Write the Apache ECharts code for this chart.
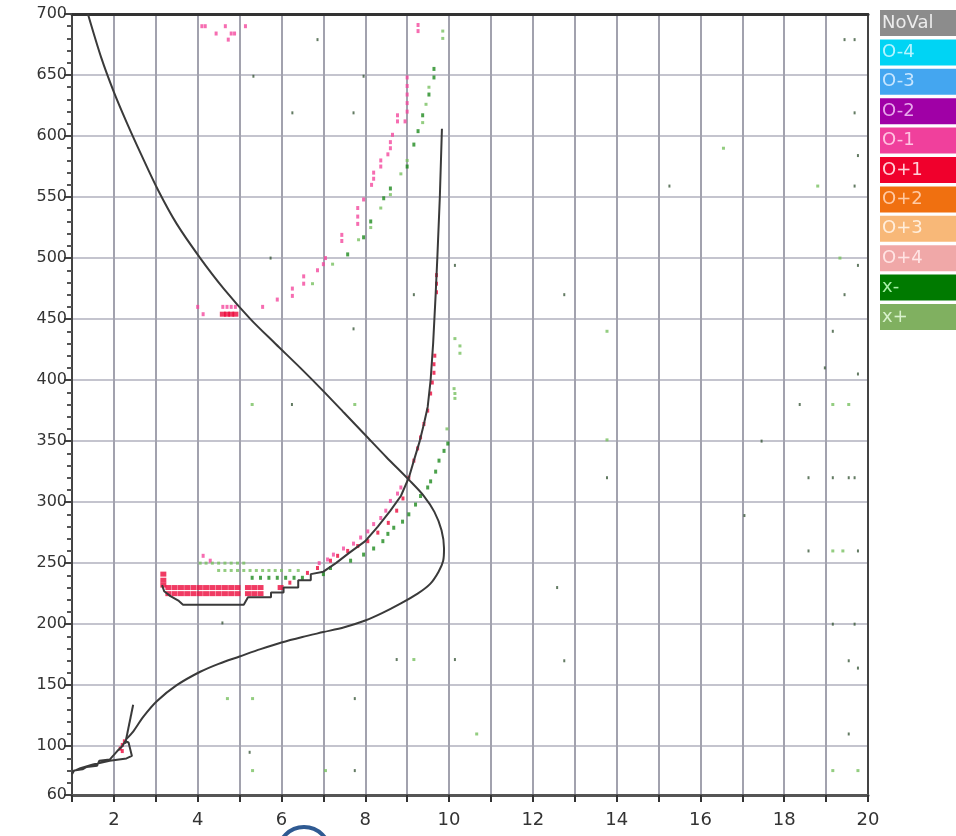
<!DOCTYPE html>
<html>
<head>
<meta charset="utf-8">
<script src="https://cdn.jsdelivr.net/npm/echarts@6/dist/echarts.min.js"></script>
<style>
  html, body { margin: 0; padding: 0; background: #fff; }
  #chart { width: 956px; height: 836px; }
</style>
</head>
<body>
<div id="chart"></div>
<script>
// legend classes (box colour, text colour)
var classNames = ['NoVal', 'O-4', 'O-3', 'O-2', 'O-1', 'O+1', 'O+2', 'O+3', 'O+4', 'x-', 'x+'];
var classColors = ['#8c8c8c', '#00d4f4', '#44a6f0', '#a000a6', '#f0409c', '#f0002c', '#f07010', '#f8b878', '#f0a8a8', '#007a00', '#80b060'];
var classTextColors = ['#ececec', '#b4f4ff', '#c8e6ff', '#e8a8ec', '#ffc4e2', '#ffd0d8', '#ffcaa4', '#ffeedc', '#ffe4e4', '#a8f0a8', '#d8f2cc'];

var yTickValues = [60, 100, 150, 200, 250, 300, 350, 400, 450, 500, 550, 600, 650, 700];

// black curves
var curveA = [[1.38,700],[1.7,664],[2.0,636],[2.32,610],[2.65,585],[3.05,556],[3.5,528],[4.06,500],[4.62,475],[5.26,450],[5.85,430],[6.45,410],[7.0,391],[7.5,373],
  [8.0,355],[8.5,337],[9.05,318],[9.4,305],[9.65,292],[9.82,277],[9.88,262],[9.86,252],[9.75,243],[9.55,233],[9.25,225],[8.85,217],[8.4,209],[8.0,203],
  [7.5,197.5],[7.0,193.5],[6.5,189.5],[6.0,185],[5.5,179.5],[5.0,173.5],[4.5,167.5],[4.06,161],[3.5,150],[3.03,137],[2.7,124],[2.46,112],[2.3,106]];
var curveB = [[9.83,606],[9.78,550],[9.72,500],[9.68,470],[9.62,430],[9.56,400],[9.49,378],[9.4,364],[9.3,350],[9.16,334],[9.04,320],[8.85,305],[8.6,293],[8.3,280],[8.0,268],[7.6,258],[7.3,250],[7.0,243],[6.7,241],[6.7,236],[6.4,236],[6.4,230],[6.05,230],[6.05,226],[5.75,226],[5.75,222],[5.2,222],[5.1,216],[3.65,216],[3.55,219],[3.35,223],[3.2,227],[3.15,232]];
var lowLoop = [[1.0,77],[1.05,80],[1.25,81],[1.35,83],[1.6,84],[1.65,88],[1.9,89],[2.08,96],[2.2,100],[2.27,104],[2.35,103],[2.43,92],[2.3,90],[1.9,88],[1.5,85],[1.2,82],[1.0,79]];
var shortStroke = [[2.46,134],[2.27,102]];

// O-1 points
var pinkPts = [[4.1,690],[4.18,690],[4.44,684],[4.66,690],[4.73,679],[4.8,684],[4.88,684],[5.14,690],
  [4.0,460],[4.13,454],[4.6,460],[4.7,460],[4.8,460],[4.9,460],[5.55,460],[5.9,466],[6.26,475],[6.26,469],[6.53,479],[6.53,485],[6.86,490],[7.0,495],[7.05,500],
  [7.44,514],[7.44,519],[7.82,528],[7.82,534],[7.82,541],[7.96,548],[8.15,560],[8.2,565],[8.2,570],[8.37,575],[8.37,580],[8.54,585],[8.6,590],[8.6,595],[8.65,601],
  [8.77,612],[8.77,617],[8.95,612],[9.0,620],[9.0,627],[9.0,634],[9.0,641],[9.0,648],[9.26,686],[9.26,691],
  [4.13,256],[4.3,252],[6.9,250],[7.1,253],[7.24,257],[7.48,262],[7.72,266],[7.89,271],[8.06,276],[8.2,282],[8.37,287],[8.49,293],[8.6,301],[8.77,307],[8.85,312]];

// O+1 points
var redPts = [[6.2,234],[6.62,242],[6.86,246],[7.17,252],[7.34,256],[7.58,260],[7.82,264],[8.06,268],[8.3,275],[8.55,283],[8.75,293],[8.9,303],[9.04,320],
  [9.16,334],[9.25,344],[9.32,353],[9.4,364],[9.49,375],[9.56,389],[9.6,398],[9.64,406],[9.64,413],[9.66,420],[9.7,472],[9.7,479],[9.7,486],
  [2.15,98],[2.2,101],[2.25,104],[2.2,96]];
var redBand = [[3.18,241],[3.18,236],[3.18,232],
  [3.3,230],[3.45,230],[3.6,230],[3.75,230],[3.9,230],[4.05,230],[4.2,230],[4.35,230],[4.5,230],[4.65,230],[4.8,230],[4.95,230],[5.2,230],[5.35,230],[5.5,230],[5.98,230],
  [3.3,225],[3.45,225],[3.6,225],[3.75,225],[3.9,225],[4.05,225],[4.2,225],[4.35,225],[4.5,225],[4.65,225],[4.8,225],[4.95,225],[5.2,225],[5.35,225],[5.5,225],
  [4.6,454],[4.7,454],[4.8,454],[4.9,454]];

// x- points
var darkGreenPts = [[8.2,262],[8.42,268],[8.54,274],[8.68,279],[8.89,284],[9.04,290],[9.2,298],[9.32,305],[9.49,312],[9.56,317],[9.68,325],[9.76,334],[9.88,342],[9.97,348],
  [5.3,238],[5.5,238],[5.7,238],[5.9,238],[6.1,238],[6.3,238],[6.5,238],[7.0,241],[7.17,246],[7.65,252],[7.96,257],
  [7.58,503],[7.96,517],[8.13,530],[8.44,549],[8.6,557],[9.0,575],[9.16,593],[9.26,604],[9.37,617],[9.52,634],[9.64,648],[9.64,655]];
var specks = [[5.33,649],[6.26,619],[5.74,500],[6.86,679],[7.72,619],[7.96,649],[9.16,470],[10.14,494],[7.72,442],[19.44,679],[19.68,679],[19.68,619],[19.76,584],
  [15.26,559],[19.68,559],[19.76,494],[12.75,470],[19.44,470],[19.16,440],[18.97,410],[19.76,405],[18.37,380],[6.25,380],[17.46,350],[13.77,320],[18.58,320],
  [19.16,320],[19.54,320],[19.68,320],[17.05,289],[18.58,260],[19.76,260],[12.58,230],[19.16,200],[19.68,200],[12.75,170],[19.54,170],[19.76,164],[19.54,110],
  [4.59,201],[7.75,139],[5.24,95],[7.75,80],[8.75,171],[10.14,171]];

// x+ points
var lightGreenPts = [[10.12,393],[10.14,389],[10.14,385],[9.95,360],[10.14,434],[10.26,428],[10.26,422],[9.85,686],[9.85,680],
  [4.06,250],[4.2,250],[4.35,250],[4.5,250],[4.65,250],[4.8,250],[4.95,250],[5.1,250],
  [4.5,244],[4.65,244],[4.8,244],[4.95,244],[5.1,244],[5.25,244],[5.4,244],[5.55,244],[5.7,244],[5.85,244],[6.0,244],[6.2,244],[6.4,244],
  [6.74,479],[7.22,495],[7.84,515],[8.13,525],[8.37,541],[8.6,552],[8.85,569],[9.0,580],[9.37,611],[9.45,626],[9.52,640],
  [16.55,590],[18.8,559],[19.33,500],[13.77,440],[19.16,380],[19.54,380],[13.77,351],[19.16,260],[19.4,260],[10.66,110],[19.16,80],[19.76,80],
  [4.71,139],[5.31,139],[5.31,80],[7.05,80],[9.16,171],[7.75,380],[5.3,380]];

var chart = echarts.init(document.getElementById('chart'));

var legendData = [];
var emptySeries = [];
for (var i = 0; i < classNames.length; i++) {
  legendData.push({
    name: classNames[i],
    textStyle: { backgroundColor: classColors[i], color: classTextColors[i] }
  });
  emptySeries.push({ name: classNames[i], type: 'scatter', data: [], itemStyle: { color: classColors[i] } });
}

function pts(name, data, color, size) {
  return {
    name: name, type: 'scatter', data: data, symbol: 'rect', symbolSize: size,
    itemStyle: { color: color }, silent: true, z: 3
  };
}
function curve(data, smooth) {
  return {
    type: 'line', data: data, showSymbol: false, smooth: smooth, silent: true, z: 5,
    lineStyle: { color: '#3a3a3a', width: 2 }
  };
}

var option = {
  animation: false,
  grid: { left: 72, right: 88, top: 14, bottom: 41 },
  legend: {
    orient: 'vertical', left: 870, top: 5, itemGap: 3.4,
    icon: 'rect', itemWidth: 0, itemHeight: 26, selectedMode: false,
    textStyle: { fontFamily: 'DejaVu Sans', fontSize: 18, width: 72, height: 26, lineHeight: 26, padding: [0, 2] },
    data: legendData
  },
  xAxis: [{
    type: 'value', min: 1, max: 20, interval: 1,
    axisLine: { lineStyle: { color: '#555', width: 3 } },
    axisTick: { length: 7, lineStyle: { color: '#333', width: 2 } },
    axisLabel: {
      fontFamily: 'DejaVu Sans', fontSize: 18, color: '#333', margin: 16,
      formatter: function (v) { return v % 2 === 0 ? String(v) : ''; }
    },
    splitLine: { lineStyle: { color: '#a2a2ae', width: 2 } }
  }, {
    type: 'value', min: 1, max: 20, position: 'top',
    axisLine: { lineStyle: { color: '#333', width: 3 } },
    axisTick: { show: false }, axisLabel: { show: false }, splitLine: { show: false }
  }],
  yAxis: [{
    type: 'value', min: 60, max: 700, interval: 10,
    axisLine: { show: true, lineStyle: { color: '#444', width: 2 } },
    axisTick: { length: 5, lineStyle: { color: '#555', width: 2 } },
    axisLabel: { show: false }, splitLine: { show: false }
  }, {
    type: 'value', min: 60, max: 700, position: 'left',
    axisLine: { show: false },
    axisTick: { show: true, customValues: yTickValues, length: 8, lineStyle: { color: '#444', width: 2 } },
    axisLabel: { customValues: yTickValues, fontFamily: 'DejaVu Sans', fontSize: 16, color: '#333', margin: 5 },
    splitLine: { show: true, lineStyle: { color: '#c4c4ce', width: 2 } }
  }, {
    type: 'value', min: 60, max: 700, position: 'right',
    axisLine: { show: true, lineStyle: { color: '#444', width: 2 } },
    axisTick: { show: false }, axisLabel: { show: false }, splitLine: { show: false }
  }],
  graphic: [{
    type: 'circle', shape: { cx: 304, cy: 853, r: 26 },
    style: { fill: 'none', stroke: '#2f5a92', lineWidth: 4 }, z: 100
  }],
  series: emptySeries.concat([
    pts('O-1', pinkPts, '#f4489e', [3, 4]),
    pts('O+1', redPts, '#ec0a3c', [3, 4]),
    pts('O+1', redBand, '#ec0a3c', [6, 5]),
    pts('x-', darkGreenPts, '#1e8a1e', [3, 4]),
    pts('x-', specks, '#3c5a3c', [2, 3]),
    pts('x+', lightGreenPts, '#78c060', [3, 3]),
    curve(curveA, 0.3),
    curve(curveB, false),
    curve(lowLoop, false),
    curve(shortStroke, false)
  ])
};

chart.setOption(option);
</script>
</body>
</html>
